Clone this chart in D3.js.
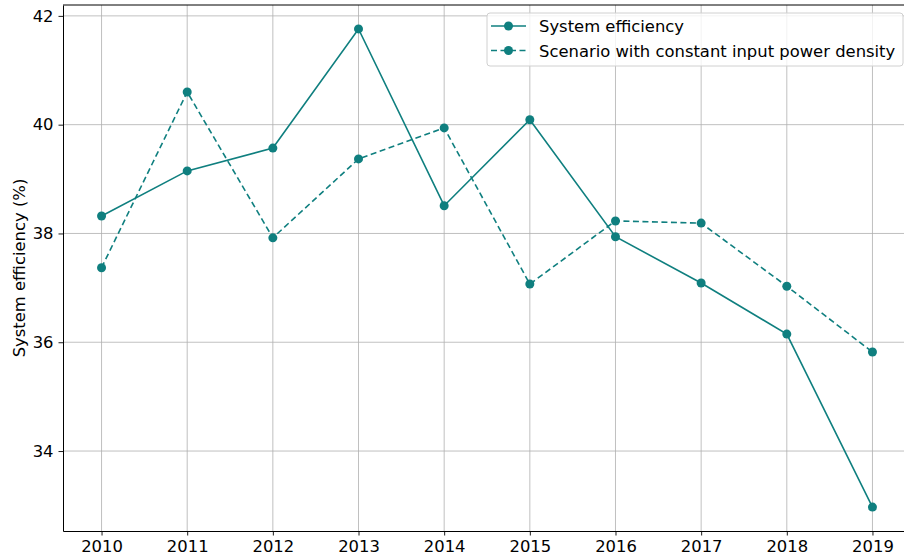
<!DOCTYPE html>
<html>
<head>
<meta charset="utf-8">
<script src="https://d3js.org/d3.v7.min.js"></script>
<style>
  body { margin: 0; background: #fff; }
  svg { font-family: "DejaVu Sans", sans-serif; }
</style>
</head>
<body>
<div id="chart"></div>
<script>
// data
var years = [2010, 2011, 2012, 2013, 2014, 2015, 2016, 2017, 2018, 2019];
var systemEff = [38.32, 39.15, 39.57, 41.76, 38.51, 40.09, 37.94, 37.09, 36.15, 32.97];
var constDensity = [37.37, 40.60, 37.92, 39.37, 39.94, 37.07, 38.23, 38.19, 37.03, 35.82];
var yTicks = [34, 36, 38, 40, 42];
var seriesNames = ["System efficiency", "Scenario with constant input power density"];

var width = 904, height = 559;
var plotLeft = 63, plotTop = 5, plotRight = 911, plotBottom = 531;
var color = "#0f7f7f";
var fontSize = 16.4;

var svg = d3.select("#chart").append("svg")
  .attr("width", width).attr("height", height);

var x = d3.scaleLinear().domain([2009.55, 2019.45]).range([plotLeft, plotRight]);
var y = d3.scaleLinear().domain([32.53, 42.2]).range([plotBottom, plotTop]);

// grid
svg.append("g").selectAll("line").data(years).enter().append("line")
  .attr("x1", d => x(d)).attr("x2", d => x(d))
  .attr("y1", plotTop).attr("y2", plotBottom)
  .attr("stroke", "#b0b0b0").attr("stroke-width", 0.8);
svg.append("g").selectAll("line").data(yTicks).enter().append("line")
  .attr("x1", plotLeft).attr("x2", plotRight)
  .attr("y1", d => y(d)).attr("y2", d => y(d))
  .attr("stroke", "#b0b0b0").attr("stroke-width", 0.8);

// axes
var xAxis = svg.append("g").attr("transform", "translate(0," + plotBottom + ")")
  .call(d3.axisBottom(x).tickValues(years).tickFormat(d3.format("d")).tickSize(4.5).tickSizeOuter(0).tickPadding(5));
var yAxis = svg.append("g").attr("transform", "translate(" + plotLeft + ",0)")
  .call(d3.axisLeft(y).tickValues(yTicks).tickSize(4.5).tickSizeOuter(0).tickPadding(5));
[xAxis, yAxis].forEach(function(a) {
  a.select(".domain").attr("stroke", "#000").attr("stroke-width", 1);
  a.selectAll(".tick line").attr("stroke", "#000").attr("stroke-width", 0.9);
  a.selectAll("text").attr("font-size", fontSize).attr("fill", "#000")
    .attr("font-family", "DejaVu Sans, sans-serif");
});
// top spine
svg.append("line").attr("x1", plotLeft).attr("x2", plotRight).attr("y1", plotTop).attr("y2", plotTop)
  .attr("stroke", "#000").attr("stroke-width", 1);

svg.append("text")
  .attr("transform", "translate(25," + ((plotTop + plotBottom) / 2) + ") rotate(-90)")
  .attr("text-anchor", "middle")
  .attr("font-size", fontSize)
  .text("System efficiency (%)");

var line = d3.line().x((d, i) => x(years[i])).y(d => y(d));

function drawSeries(vals, dash) {
  svg.append("path").datum(vals)
    .attr("d", line).attr("fill", "none")
    .attr("stroke", color).attr("stroke-width", 1.6)
    .attr("stroke-dasharray", dash);
  svg.append("g").selectAll("circle").data(vals).enter().append("circle")
    .attr("cx", (d, i) => x(years[i])).attr("cy", d => y(d))
    .attr("r", 4.5).attr("fill", color);
}
drawSeries(systemEff, null);
drawSeries(constDensity, "6,3.5");

// legend
var lg = svg.append("g");
lg.append("rect").attr("x", 487).attr("y", 13).attr("width", 416).attr("height", 53)
  .attr("rx", 3).attr("fill", "#fff").attr("fill-opacity", 0.8)
  .attr("stroke", "#d0d0d0").attr("stroke-width", 1);
seriesNames.forEach(function(name, i) {
  var yy = 26 + i * 24.5;
  lg.append("line").attr("x1", 491).attr("x2", 526).attr("y1", yy).attr("y2", yy)
    .attr("stroke", color).attr("stroke-width", 1.6)
    .attr("stroke-dasharray", i === 1 ? "6,3.5" : null);
  lg.append("circle").attr("cx", 508.5).attr("cy", yy).attr("r", 4.5).attr("fill", color);
  lg.append("text").attr("x", 539).attr("y", yy + 6).attr("font-size", fontSize).text(name);
});
</script>
</body>
</html>
